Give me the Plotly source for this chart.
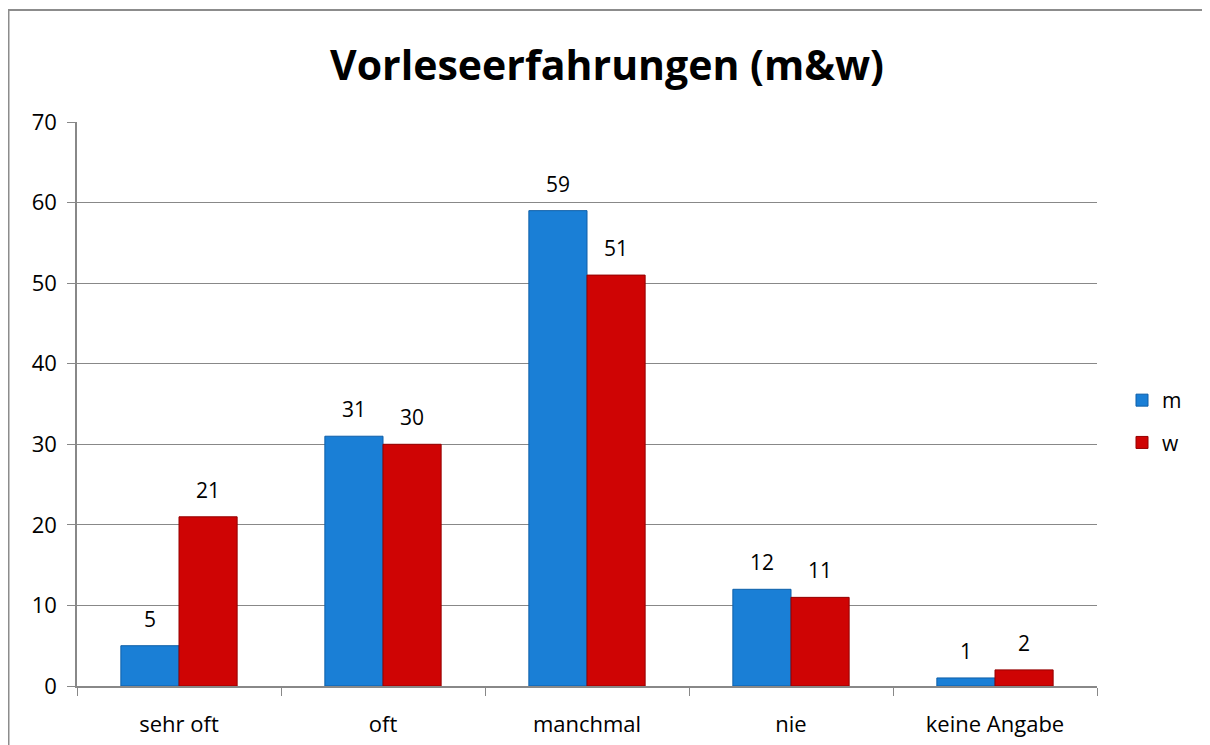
import plotly.graph_objects as go

categories = ["sehr oft", "oft", "manchmal", "nie", "keine Angabe"]
m_values = [5, 31, 59, 12, 1]
w_values = [21, 30, 51, 11, 2]
y_ticks = [0, 10, 20, 30, 40, 50, 60, 70]

FONT = "'Open Sans', 'Noto Sans', sans-serif"
OFF = 8  # page body margin in the browser

W, H = 1210 - OFF, 745 - OFF
L, T = 77 - OFF, 122 - OFF
R = W - (1097 - OFF)
B = H - (686 - OFF)
pw = W - L - R
ph = H - T - B

BARGAP = 0.43

fig = go.Figure()
fig.add_trace(go.Bar(
    name="m", x=categories, y=m_values, legendgroup="m",
    marker=dict(color="#1a7fd6", line=dict(color="#0e5fa8", width=1)),
))
fig.add_trace(go.Bar(
    name="w", x=categories, y=w_values, legendgroup="w",
    marker=dict(color="#cf0404", line=dict(color="#950000", width=1)),
))

# value labels above the bars
cat_w = pw / len(categories)
bar_w = cat_w * (1 - BARGAP) / 2
for vals, sgn in ((m_values, -1), (w_values, 1)):
    for c, v in zip(categories, vals):
        fig.add_annotation(x=c, y=v, xref="x", yref="y", text=str(v),
                           showarrow=False, xanchor="center", yanchor="bottom",
                           xshift=sgn * bar_w / 2, yshift=11,
                           font=dict(size=21, color="#000000", family=FONT))

def px_x(x):
    return (x - OFF - L) / pw

def px_y(y):
    return (H - B - (y - OFF)) / ph

fig.add_shape(type="rect", xref="paper", yref="paper",
              x0=px_x(8.5), x1=px_x(1207), y0=px_y(770), y1=px_y(10),
              line=dict(color="#8c8c8c", width=2), fillcolor="rgba(0,0,0,0)", layer="below")

fig.update_layout(
    width=W, height=H,
    margin=dict(l=L, r=R, t=T, b=B, autoexpand=False),
    paper_bgcolor="white", plot_bgcolor="white",
    barmode="group", bargap=BARGAP, bargroupgap=0,
    title=dict(text="<b>Vorleseerfahrungen (m&w)</b>", xref="paper", x=px_x(607),
               xanchor="center", yref="container",
               y=1 - (66 - OFF) / H, yanchor="middle",
               font=dict(size=41, color="#000000", family=FONT)),
    font=dict(family=FONT, size=22, color="#000000"),
    showlegend=True,
    legend=dict(x=px_x(1122), y=px_y(380), xanchor="left", yanchor="top",
                font=dict(size=21, color="#000000", family=FONT),
                traceorder="grouped", itemwidth=30, tracegroupgap=12,
                bgcolor="rgba(0,0,0,0)"),
    xaxis=dict(showline=True, linecolor="#888888", linewidth=1.5, automargin=False,
               ticks="outside", tickson="boundaries", ticklen=8, tickcolor="#888888",
               ticklabelstandoff=18,
               tickfont=dict(size=22, color="#000000", family=FONT), showgrid=False),
    yaxis=dict(range=[0, 70], tickvals=y_ticks, showline=True, linecolor="#888888",
               linewidth=1.5, ticks="outside", ticklen=8, tickcolor="#888888",
               ticklabelstandoff=6, automargin=False,
               gridcolor="#888888", gridwidth=1.3,
               tickfont=dict(size=22, color="#000000", family=FONT), zeroline=False),
)

fig.write_html("out.html")
